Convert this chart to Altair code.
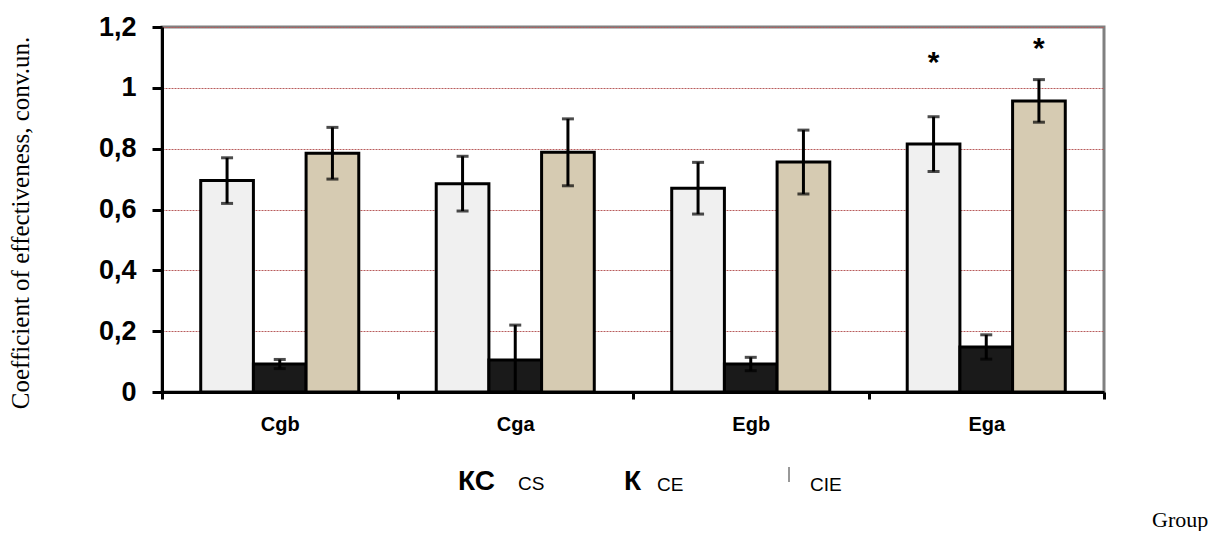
import altair as alt
import pandas as pd

groups = ["Cgb", "Cga", "Egb", "Ega"]
series = ["CS", "CE", "CIE"]
cs_values = [0.695, 0.685, 0.67, 0.815]
cs_errors = [0.075, 0.09, 0.085, 0.09]
ce_values = [0.092, 0.105, 0.092, 0.148]
ce_errors = [0.015, 0.115, 0.022, 0.04]
cie_values = [0.785, 0.788, 0.756, 0.957]
cie_errors = [0.085, 0.11, 0.105, 0.07]
star_groups = ["Ega", "Ega"]
star_series = ["CS", "CIE"]
star_levels = [1.108, 1.154]
y_ticks = [0, 0.2, 0.4, 0.6, 0.8, 1.0, 1.2]
series_colors = ["#f0f0f0", "#1a1a1a", "#d6cbb2"]

rows = []
for s, vals, errs in [("CS", cs_values, cs_errors), ("CE", ce_values, ce_errors), ("CIE", cie_values, cie_errors)]:
    for g, v, e in zip(groups, vals, errs):
        rows.append({"group": g, "series": s, "value": v, "lo": max(v - e, 0), "hi": v + e})
df = pd.DataFrame(rows)
stars = pd.DataFrame({"group": star_groups, "series": star_series, "level": star_levels})

x_scale = alt.Scale(domain=groups, paddingInner=0, paddingOuter=0)
xo_scale = alt.Scale(domain=series, paddingInner=0, paddingOuter=0.735)
y_scale = alt.Scale(domain=[0, 1.2], nice=False)

x_enc = alt.X("group:N", scale=x_scale, sort=groups,
              axis=alt.Axis(title=None, labelAngle=0, tickBand="extent",
                            domainColor="black", domainWidth=3,
                            tickColor="black", tickWidth=3, tickSize=7,
                            labelFont="Liberation Sans", labelFontWeight="bold",
                            labelFontSize=20, labelColor="black", labelPadding=15))
xo_enc = alt.XOffset("series:N", scale=xo_scale, sort=series)

bars = alt.Chart(df).mark_bar(stroke="black", strokeWidth=3).encode(
    x=x_enc,
    xOffset=xo_enc,
    y=alt.Y("value:Q", scale=y_scale,
            axis=alt.Axis(title=None, values=y_ticks,
                          labelExpr="replace(toString(datum.value), '.', ',')",
                          labelFont="Liberation Sans", labelFontWeight="bold",
                          labelFontSize=27, labelColor="black", labelPadding=16,
                          domainColor="black", domainWidth=3,
                          tickColor="black", tickWidth=3, tickSize=10,
                          grid=True, gridColor="#b85c5c", gridDash=[2, 1], gridWidth=1)),
    fill=alt.Fill("series:N", scale=alt.Scale(domain=series, range=series_colors), legend=None),
)

rules = alt.Chart(df).mark_rule(color="black", strokeWidth=3).encode(
    x=alt.X("group:N", scale=x_scale, sort=groups),
    xOffset=xo_enc,
    y=alt.Y("lo:Q", scale=y_scale),
    y2="hi:Q",
)
caps_hi = alt.Chart(df).mark_tick(color="black", thickness=3, size=12, orient="horizontal").encode(
    x=alt.X("group:N", scale=x_scale, sort=groups),
    xOffset=xo_enc,
    y=alt.Y("hi:Q", scale=y_scale),
)
caps_lo = alt.Chart(df).mark_tick(color="black", thickness=3, size=12, orient="horizontal").encode(
    x=alt.X("group:N", scale=x_scale, sort=groups),
    xOffset=xo_enc,
    y=alt.Y("lo:Q", scale=y_scale),
)
star_marks = alt.Chart(stars).mark_text(text="*", font="Liberation Sans", fontWeight="bold",
                                        fontSize=30, color="black", dy=17, baseline="alphabetic").encode(
    x=alt.X("group:N", scale=x_scale, sort=groups),
    xOffset=xo_enc,
    y=alt.Y("level:Q", scale=y_scale),
)


def label(txt, x, y, size, weight="normal", font="Liberation Sans", angle=0, align="left",
          baseline="alphabetic"):
    return alt.Chart(pd.DataFrame({"t": [txt]})).mark_text(
        font=font, fontSize=size, fontWeight=weight, color="black", angle=angle,
        align=align, baseline=baseline
    ).encode(text="t:N", x=alt.value(x), y=alt.value(y))


texts = [
    label("Coefficient of effectiveness, conv.un.", -141, 196, 25, font="Liberation Serif",
          angle=270, align="center", baseline="middle"),
    label("Group", 990, 500, 22, font="Liberation Serif"),
    label("КС", 296, 463, 28, weight="bold"),
    label("CS", 356, 463, 19),
    label("К", 462, 463, 28, weight="bold"),
    label("CE", 495, 464, 19),
    label("CIE", 648, 464, 19),
]
legend_line = alt.Chart(pd.DataFrame({"t": [0]})).mark_rule(color="#333333", strokeWidth=1).encode(
    x=alt.value(627), y=alt.value(440), y2=alt.value(455))

chart = alt.layer(bars, rules, caps_hi, caps_lo, star_marks, legend_line, *texts).properties(
    width=942, height=365,
    autosize=alt.AutoSizeParams(type="none"),
    padding={"left": 154, "top": 19, "right": 115, "bottom": 139},
).configure_view(stroke="#808080", strokeWidth=3)

chart.save("out.html", embed_options={"renderer": "svg", "actions": False})
